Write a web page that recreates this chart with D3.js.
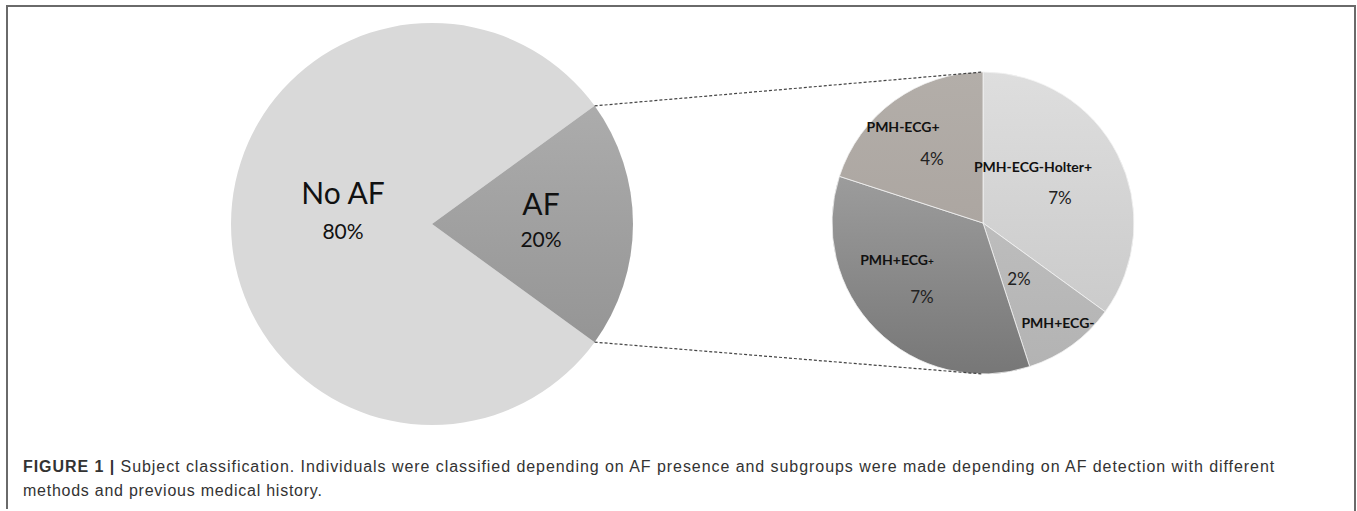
<!DOCTYPE html>
<html>
<head>
<meta charset="utf-8">
<script src="https://cdn.jsdelivr.net/npm/d3@7"></script>
<style>
  body { margin: 0; background: #fff; }
  svg { display: block; }
</style>
</head>
<body>
<div class="chart"></div>
<script>
// main pie
const mainLabels = ['No AF', 'AF'];
const mainValues = [80, 20];
// AF breakdown, clockwise from 12 o'clock
const subLabels = ['PMH-ECG-Holter+', 'PMH+ECG-', 'PMH+ECG+', 'PMH-ECG+'];
const subValues = [7, 2, 7, 4];

const width = 1357, height = 511;

const svg = d3.select('.chart').append('svg')
    .attr('width', width)
    .attr('height', height);

const defs = svg.append('defs');
function grad(id, top, bottom) {
    const g = defs.append('linearGradient')
        .attr('id', id)
        .attr('x1', 0).attr('y1', 0).attr('x2', 0).attr('y2', 1);
    g.append('stop').attr('offset', '0%').attr('stop-color', top);
    g.append('stop').attr('offset', '100%').attr('stop-color', bottom);
}
grad('g-af', '#acacac', '#959595');
grad('g-holter', '#dedede', '#cbcbcb');
grad('g-pmhneg', '#bdbdbd', '#b3b3b3');
grad('g-pmhpos', '#9c9c9c', '#777777');
grad('g-ecgpos', '#b3aea9', '#aca6a1');

// frame (open at the bottom)
svg.append('path')
    .attr('d', 'M7,509 L7,6 L1355,6 L1355,511')
    .attr('fill', 'none')
    .attr('stroke', '#6a6a6a')
    .attr('stroke-width', 2);

//left pie
const mainC = {x: 432, y: 224, r: 201};
const mainPie = d3.pie().sort(null)
    .startAngle(Math.PI / 2 + Math.PI * 0.2)   // AF slice centred on 3 o'clock
    .endAngle(Math.PI / 2 + Math.PI * 0.2 + 2 * Math.PI);
const mainArcs = mainPie(mainValues);
const mainArc = d3.arc().innerRadius(0).outerRadius(mainC.r);
const mainFill = d3.scaleOrdinal().domain(mainLabels).range(['#d9d9d9', 'url(#g-af)']);

const gMain = svg.append('g').attr('transform', `translate(${mainC.x},${mainC.y})`);
gMain.selectAll('path')
    .data(mainArcs)
    .enter()
    .append('path')
    .attr('d', mainArc)
    .attr('fill', (d, i) => mainFill(mainLabels[i]));

// right pie
const subC = {x: 983, y: 223, r: 151};
const subPie = d3.pie().sort(null);
const subArcs = subPie(subValues);
const subArc = d3.arc().innerRadius(0).outerRadius(subC.r);
const subFill = d3.scaleOrdinal().domain(subLabels)
    .range(['url(#g-holter)', 'url(#g-pmhneg)', 'url(#g-pmhpos)', 'url(#g-ecgpos)']);

const gSub = svg.append('g').attr('transform', `translate(${subC.x},${subC.y})`);
gSub.selectAll('path')
    .data(subArcs)
    .enter()
    .append('path')
    .attr('d', subArc)
    .attr('fill', (d, i) => subFill(subLabels[i]))
    .attr('stroke', '#f2f2f2')
    .attr('stroke-width', 0.8);

//connector lines from the AF slice edge to the top / bottom of the right pie
const af = mainArcs[1];
const edge = a => [mainC.x + mainC.r * Math.sin(a), mainC.y - mainC.r * Math.cos(a)];
const p0 = edge(af.startAngle), p1 = edge(af.endAngle);
[[p0, [subC.x, subC.y - subC.r]], [p1, [subC.x, subC.y + subC.r]]].forEach(seg => {
    svg.append('line')
        .attr('x1', seg[0][0]).attr('y1', seg[0][1])
        .attr('x2', seg[1][0]).attr('y2', seg[1][1])
        .attr('stroke', '#444')
        .attr('stroke-width', 1.2)
        .attr('stroke-dasharray', '3,2');
});

// labels on the left pie
const mainText = [
    {name: [-89, -20], pct: [-89, 15]},
    {name: [109, -9], pct: [109, 23]}
];
mainLabels.forEach((lab, i) => {
    gMain.append('text')
        .attr('x', mainText[i].name[0]).attr('y', mainText[i].name[1])
        .attr('text-anchor', 'middle')
        .attr('font-family', 'Lato, sans-serif')
        .attr('font-size', 30)
        .attr('fill', '#111')
        .text(lab);
    gMain.append('text')
        .attr('x', mainText[i].pct[0]).attr('y', mainText[i].pct[1])
        .attr('text-anchor', 'middle')
        .attr('font-family', 'Lato, sans-serif')
        .attr('font-size', 21)
        .attr('fill', '#111')
        .text(mainValues[i] + '%');
});

// labels on the right pie
const subText = [
    {name: [50, -51], pct: [77, -19]},
    {name: [75, 105], pct: [36, 62]},
    {name: [-86, 42], pct: [-61, 80]},
    {name: [-80, -91], pct: [-51, -58]}
];
subLabels.forEach((lab, i) => {
    const t = gSub.append('text')
        .attr('x', subText[i].name[0]).attr('y', subText[i].name[1])
        .attr('text-anchor', 'middle')
        .attr('font-family', 'Lato, sans-serif')
        .attr('font-weight', 'bold')
        .attr('font-size', 14)
        .attr('fill', '#111');
    if (lab === 'PMH+ECG+') {
        // the last plus is printed small in the original
        t.append('tspan').text('PMH+ECG');
        t.append('tspan').attr('font-size', 10).text('+');
    } else {
        t.text(lab);
    }
    gSub.append('text')
        .attr('x', subText[i].pct[0]).attr('y', subText[i].pct[1])
        .attr('text-anchor', 'middle')
        .attr('font-family', 'Lato, sans-serif')
        .attr('font-size', 17)
        .attr('fill', '#222')
        .text(subValues[i] + '%');
});

// caption
const cap = svg.append('g')
    .attr('font-family', '"Liberation Sans", Arial, sans-serif')
    .attr('font-size', 16)
    .attr('letter-spacing', 0.75)
    .attr('fill', '#333');
const line1 = cap.append('text').attr('x', 23).attr('y', 472)
    .attr('textLength', 1252)
    .attr('lengthAdjust', 'spacing');
line1.append('tspan').attr('font-weight', 'bold').text('FIGURE 1 | ');
line1.append('tspan').text('Subject classification. Individuals were classified depending on AF presence and subgroups were made depending on AF detection with different');
cap.append('text').attr('x', 23).attr('y', 496)
    .text('methods and previous medical history.');
</script>
</body>
</html>
